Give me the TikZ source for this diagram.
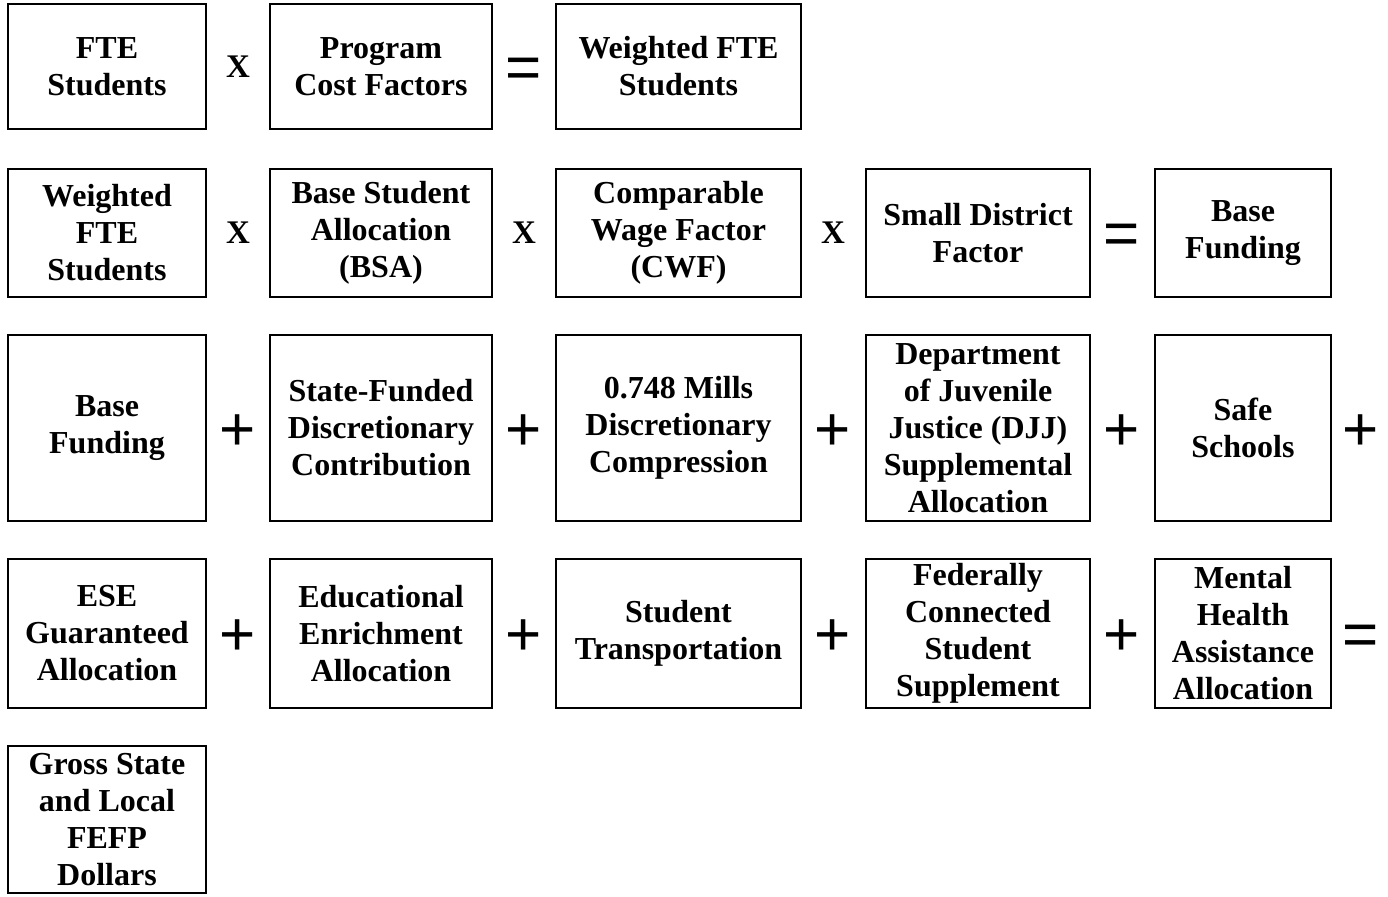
\documentclass[tikz,border=0pt]{standalone}
\usepackage{fontspec}
\setmainfont{Liberation Serif}
\newfontfamily\opfont{Liberation Sans}
\begin{document}
\begin{tikzpicture}[x=1pt,y=-1pt,
  box/.style={draw, line width=2pt, align=center, inner sep=0pt,
    font=\bfseries\fontsize{32}{37}\selectfont},
  opx/.style={inner sep=0pt, font=\bfseries\fontsize{33}{36}\selectfont},
  opsym/.style={inner sep=0pt, font=\opfont\fontsize{62}{62}\selectfont},
  ca/.style={minimum width=198pt}, cb/.style={minimum width=222pt},
  cc/.style={minimum width=245pt}, cd/.style={minimum width=224pt},
  ce/.style={minimum width=176pt},
  ra/.style={minimum height=125pt}, rb/.style={minimum height=128pt},
  rc/.style={minimum height=186pt}, rd/.style={minimum height=149pt},
  re/.style={minimum height=147pt}]
\useasboundingbox (0,0) rectangle (1388,896);
% row 1
\node[box,ca,ra] (a1) at (107,66.5) {FTE\\Students};
\node[opx] (ax1) at (238,67) {X};
\node[box,cb,ra] (a2) at (381,66.5) {Program\\Cost Factors};
\node[opsym] (aeq) at (524,73) {=};
\node[box,cc,ra] (a3) at (678.5,66.5) {Weighted FTE\\Students};
% row 2
\node[box,ca,rb] (b1) at (107,233) {Weighted\\FTE\\Students};
\node[opx] (bx1) at (238,233) {X};
\node[box,cb,rb] (b2) at (381,233) {Base Student\\Allocation\\(BSA)};
\node[opx] (bx2) at (524,233) {X};
\node[box,cc,rb] (b3) at (678.5,233) {Comparable\\Wage Factor\\(CWF)};
\node[opx] (bx3) at (833,233) {X};
\node[box,cd,rb] (b4) at (978,233) {Small District\\Factor};
\node[opsym] (beq) at (1122,239.5) {=};
\node[box,ce,rb] (b5) at (1243,233) {Base\\Funding};
% row 3
\node[box,ca,rc] (c1) at (107,428) {Base\\Funding};
\node[opsym] (cp1) at (238,432.5) {+};
\node[box,cb,rc] (c2) at (381,428) {State-Funded\\Discretionary\\Contribution};
\node[opsym] (cp2) at (524,432.5) {+};
\node[box,cc,rc] (c3) at (678.5,428) {0.748 Mills\\Discretionary\\Compression};
\node[opsym] (cp3) at (833,432.5) {+};
\node[box,cd,rc] (c4) at (978,428) {Department\\of Juvenile\\Justice (DJJ)\\Supplemental\\Allocation};
\node[opsym] (cp4) at (1122,432.5) {+};
\node[box,ce,rc] (c5) at (1243,428) {Safe\\Schools};
\node[opsym] (cp5) at (1361,432.5) {+};
% row 4
\node[box,ca,rd] (d1) at (107,633.5) {ESE\\Guaranteed\\Allocation};
\node[opsym] (dp1) at (238,638) {+};
\node[box,cb,rd] (d2) at (381,633.5) {Educational\\Enrichment\\Allocation};
\node[opsym] (dp2) at (524,638) {+};
\node[box,cc,rd] (d3) at (678.5,633.5) {Student\\Transportation};
\node[opsym] (dp3) at (833,638) {+};
\node[box,cd,rd] (d4) at (978,633.5) {Federally\\Connected\\Student\\Supplement};
\node[opsym] (dp4) at (1122,638) {+};
\node[box,ce,rd] (d5) at (1243,633.5) {Mental\\Health\\Assistance\\Allocation};
\node[opsym] (deq) at (1361,640) {=};
% row 5
\node[box,ca,re] (e1) at (107,819.5) {Gross State\\and Local\\FEFP\\Dollars};
\end{tikzpicture}
\end{document}
